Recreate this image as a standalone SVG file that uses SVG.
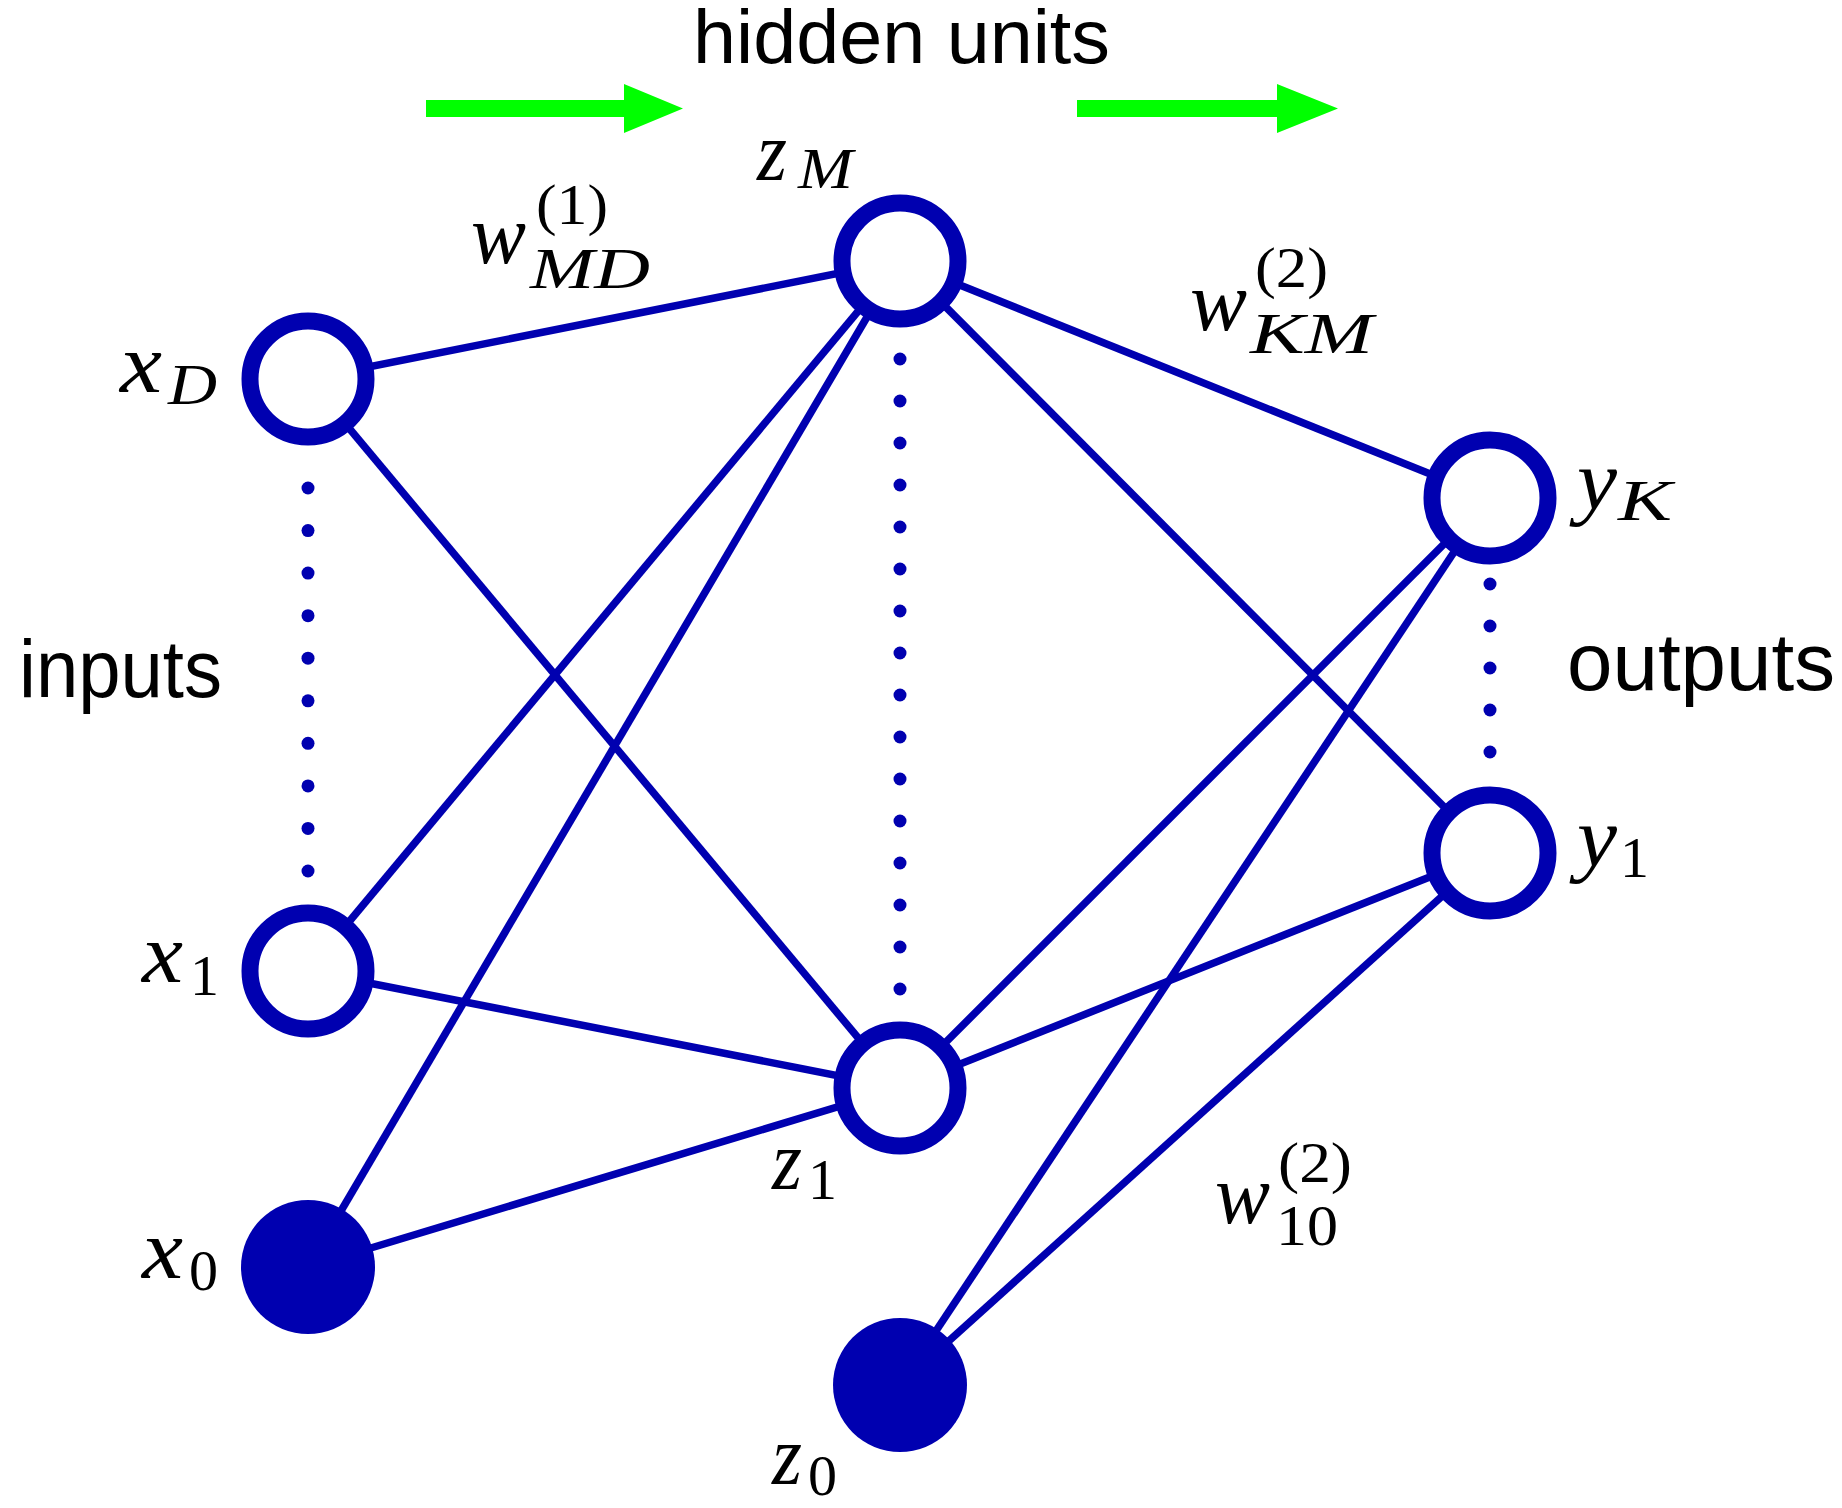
<svg xmlns="http://www.w3.org/2000/svg" width="1842" height="1508" viewBox="0 0 1842 1508">
<style>
.edge{stroke:#0000B0;stroke-width:7.5;fill:none}
.node{fill:#fff;stroke:#0000B0;stroke-width:17}
.bias{fill:#0000B0}
.dot{fill:#0000B0}
.arrow{fill:#00FF00}
.sans{font-family:"Liberation Sans",Arial,sans-serif;fill:#000}
.mi{font-family:"Liberation Serif","Times New Roman",serif;font-style:italic;font-size:84px;fill:#000}
.ms{font-family:"Liberation Serif","Times New Roman",serif;font-style:italic;font-size:58px;fill:#000}
.mr{font-family:"Liberation Serif","Times New Roman",serif;font-size:58px;fill:#000}
</style>
<rect width="1842" height="1508" fill="#fff"/>
<g id="connectors">
<line class="edge" x1="308" y1="379" x2="900" y2="261"/>
<line class="edge" x1="308" y1="379" x2="900" y2="1088"/>
<line class="edge" x1="308" y1="971" x2="900" y2="261"/>
<line class="edge" x1="308" y1="971" x2="900" y2="1088"/>
<line class="edge" x1="308" y1="1267" x2="900" y2="261"/>
<line class="edge" x1="308" y1="1267" x2="900" y2="1088"/>
<line class="edge" x1="900" y1="261" x2="1490" y2="498"/>
<line class="edge" x1="900" y1="261" x2="1490" y2="853"/>
<line class="edge" x1="900" y1="1088" x2="1490" y2="498"/>
<line class="edge" x1="900" y1="1088" x2="1490" y2="853"/>
<line class="edge" x1="900" y1="1385" x2="1490" y2="498"/>
<line class="edge" x1="900" y1="1385" x2="1490" y2="853"/>
</g>
<g id="dots-inputs">
<circle class="dot" cx="308" cy="488" r="6.5"/><circle class="dot" cx="308" cy="530.6" r="6.5"/><circle class="dot" cx="308" cy="573.1" r="6.5"/><circle class="dot" cx="308" cy="615.7" r="6.5"/><circle class="dot" cx="308" cy="658.2" r="6.5"/><circle class="dot" cx="308" cy="700.8" r="6.5"/><circle class="dot" cx="308" cy="743.3" r="6.5"/><circle class="dot" cx="308" cy="785.9" r="6.5"/><circle class="dot" cx="308" cy="828.4" r="6.5"/><circle class="dot" cx="308" cy="871" r="6.5"/>
</g>
<g id="dots-hidden">
<circle class="dot" cx="900" cy="359" r="6.5"/><circle class="dot" cx="900" cy="401" r="6.5"/><circle class="dot" cx="900" cy="443" r="6.5"/><circle class="dot" cx="900" cy="485" r="6.5"/><circle class="dot" cx="900" cy="527" r="6.5"/><circle class="dot" cx="900" cy="569" r="6.5"/><circle class="dot" cx="900" cy="611" r="6.5"/><circle class="dot" cx="900" cy="653" r="6.5"/><circle class="dot" cx="900" cy="695" r="6.5"/><circle class="dot" cx="900" cy="737" r="6.5"/><circle class="dot" cx="900" cy="779" r="6.5"/><circle class="dot" cx="900" cy="821" r="6.5"/><circle class="dot" cx="900" cy="863" r="6.5"/><circle class="dot" cx="900" cy="905" r="6.5"/><circle class="dot" cx="900" cy="947" r="6.5"/><circle class="dot" cx="900" cy="989" r="6.5"/>
</g>
<g id="dots-outputs">
<circle class="dot" cx="1490" cy="584" r="6.5"/><circle class="dot" cx="1490" cy="626" r="6.5"/><circle class="dot" cx="1490" cy="668" r="6.5"/><circle class="dot" cx="1490" cy="710" r="6.5"/><circle class="dot" cx="1490" cy="752" r="6.5"/>
</g>
<g id="node-xD"><circle class="node" cx="308" cy="379" r="58"/><text class="mi" x="120" y="392" textLength="42" lengthAdjust="spacingAndGlyphs">x</text><text class="ms" x="168" y="404" textLength="49" lengthAdjust="spacingAndGlyphs">D</text></g>
<g id="node-x1"><circle class="node" cx="308" cy="971" r="58"/><text class="mi" x="142" y="982" textLength="41" lengthAdjust="spacingAndGlyphs">x</text><text class="mr" x="190" y="995">1</text></g>
<g id="node-x0"><circle class="bias" cx="308" cy="1267" r="67"/><text class="mi" x="142" y="1278" textLength="41" lengthAdjust="spacingAndGlyphs">x</text><text class="mr" x="189" y="1290">0</text></g>
<g id="node-zM"><circle class="node" cx="900" cy="261" r="58"/><text class="mi" x="757" y="180" textLength="30" lengthAdjust="spacingAndGlyphs">z</text><text class="ms" x="798" y="188" textLength="55" lengthAdjust="spacingAndGlyphs">M</text></g>
<g id="node-z1"><circle class="node" cx="900" cy="1088" r="58"/><text class="mi" x="772" y="1189" textLength="30" lengthAdjust="spacingAndGlyphs">z</text><text class="mr" x="808" y="1199">1</text></g>
<g id="node-z0"><circle class="bias" cx="900" cy="1385" r="67"/><text class="mi" x="772" y="1484" textLength="30" lengthAdjust="spacingAndGlyphs">z</text><text class="mr" x="808" y="1495">0</text></g>
<g id="node-yK"><circle class="node" cx="1490" cy="498" r="58"/><text class="mi" x="1577" y="509" textLength="40" lengthAdjust="spacingAndGlyphs">y</text><text class="ms" x="1618" y="520" textLength="54" lengthAdjust="spacingAndGlyphs">K</text></g>
<g id="node-y1"><circle class="node" cx="1490" cy="853" r="58"/><text class="mi" x="1577" y="866" textLength="40" lengthAdjust="spacingAndGlyphs">y</text><text class="mr" x="1620" y="877">1</text></g>
<g id="weight-labels">
<text class="mi" x="471" y="263" textLength="55" lengthAdjust="spacingAndGlyphs">w</text><text class="mr" x="536" y="224" textLength="72" lengthAdjust="spacingAndGlyphs">(1)</text><text class="ms" x="530" y="288" textLength="120" lengthAdjust="spacingAndGlyphs">MD</text>
<text class="mi" x="1190" y="330" textLength="57" lengthAdjust="spacingAndGlyphs">w</text><text class="mr" x="1255" y="287" textLength="73" lengthAdjust="spacingAndGlyphs">(2)</text><text class="ms" x="1250" y="353" textLength="123" lengthAdjust="spacingAndGlyphs">KM</text>
<text class="mi" x="1215" y="1223" textLength="55" lengthAdjust="spacingAndGlyphs">w</text><text class="mr" x="1278" y="1182" textLength="74" lengthAdjust="spacingAndGlyphs">(2)</text><text class="mr" x="1276" y="1245" textLength="62" lengthAdjust="spacingAndGlyphs">10</text>
</g>
<g id="flow-arrows">
<path class="arrow" d="M426,100 H624 V84 L683,108.5 L624,133 V117 H426 Z"/>
<path class="arrow" d="M1077,100 H1277 V84 L1338,108.5 L1277,133 V117 H1077 Z"/>
</g>
<g id="titles">
<text class="sans" x="693" y="63" font-size="76" textLength="417" lengthAdjust="spacingAndGlyphs">hidden units</text>
<text class="sans" x="19" y="697" font-size="82" textLength="203" lengthAdjust="spacingAndGlyphs">inputs</text>
<text class="sans" x="1567" y="690" font-size="82" textLength="268" lengthAdjust="spacingAndGlyphs">outputs</text>
</g>
</svg>
